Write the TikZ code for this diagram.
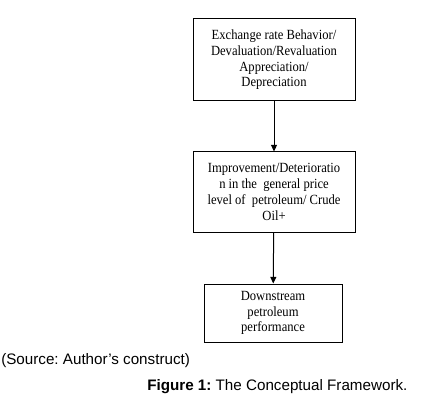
\documentclass[tikz,border=0pt]{standalone}
\usepackage{fontspec}
\setmainfont{Liberation Serif}[FakeStretch=0.9]
\newfontfamily\capfont{Liberation Sans}
\usetikzlibrary{arrows.meta,positioning}
\frenchspacing

\begin{document}
\begin{tikzpicture}[x=0.75pt, y=0.75pt,
  stage/.style={draw=black, line width=0.75pt, align=center, inner sep=0pt,
    font=\fontsize{10.5}{11.8}\selectfont},
  flow/.style={line width=0.75pt, -{Triangle[length=5pt,width=4.5pt]}}]
  \useasboundingbox (0,0) rectangle (423,407);
  % boxes
  \node[stage, minimum width=121.5pt, minimum height=61.5pt] (rate) at (274,347)
    {Exchange rate Behavior/\\Devaluation/Revaluation\\Appreciation/\\Depreciation};
  \node[stage, minimum width=121.5pt, minimum height=60pt] (price) at (274,215)
    {Improvement/Deterioratio\\n in the\ \ general price\\level of\ \ petroleum/ Crude\\Oil+};
  \node[stage, minimum width=103.5pt, minimum height=43.5pt] (perf) at (273,94)
    {Downstream\\petroleum\\performance};
  % arrows
  \draw[flow] (rate) -- (price);
  \draw[flow] (price) -- (perf);
  % captions
  \node[anchor=west, inner sep=0pt, font=\capfont\fontsize{11.4}{13}\selectfont] (src) at (1,46)
    {(Source: Author’s construct)};
  \node[anchor=west, inner sep=0pt, font=\capfont\fontsize{11.4}{13}\selectfont] (fig) at (147,20)
    {\textbf{Figure 1:} The Conceptual Framework.};
\end{tikzpicture}
\end{document}
